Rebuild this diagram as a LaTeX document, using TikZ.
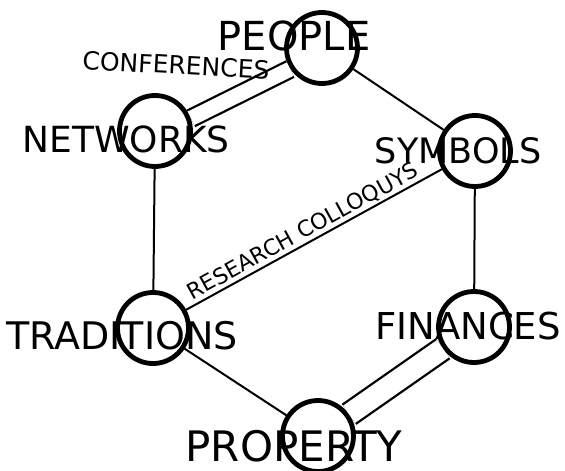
\documentclass[tikz,border=0pt]{standalone}
\usepackage{fontspec}
\setmainfont{DejaVu Sans}
\begin{document}
\begin{tikzpicture}[x=1pt,y=-1pt,
  hub/.style={circle, draw, line width=4.8pt, minimum size=71pt, inner sep=0pt},
  link/.style={line width=2pt},
  dbl/.style={double, double distance=#1, line width=2.3pt},
  lbl/.style={inner sep=0pt, font=\fontsize{#1}{#1}\selectfont}]
\useasboundingbox (0,0) rectangle (565,471);
\clip (0,0) rectangle (565,471);
% circles
\node[hub] (people) at (322,48) {};
\node[hub] (networks) at (155,131) {};
\node[hub] (symbols) at (475,151) {};
\node[hub] (traditions) at (153,328) {};
\node[hub] (finances) at (474,327) {};
\node[hub] (property) at (318,436) {};
% connectors
\draw[dbl=15pt, transform canvas={xshift=2.1pt,yshift=-4.2pt}] (networks) -- (people);
\draw[link] (people) -- (symbols);
\draw[link] (networks) -- (traditions);
\draw[link] (symbols) -- (finances);
\draw[link] (traditions) -- node[pos=0.48, sloped, above=1.5pt, lbl=22] (research) {RESEARCH COLLOQUYS} (symbols);
\draw[link] (traditions) -- (property);
\draw[dbl=21pt] (finances) -- (property);
% labels
\node[lbl=40] (peoplelbl) at (294,36) {PEOPLE};
\node[lbl=25, rotate=-3] (conflbl) at (176,65) {CONFERENCES};
\node[lbl=36] (netlbl) at (126,139) {NETWORKS};
\node[lbl=35] (symlbl) at (458,151) {SYMBOLS};
\node[lbl=38] (tradlbl) at (122,336) {TRADITIONS};
\node[lbl=37] (finlbl) at (468,326) {FINANCES};
\node[lbl=42] (proplbl) at (294,446) {PROPERTY};
\end{tikzpicture}
\end{document}
